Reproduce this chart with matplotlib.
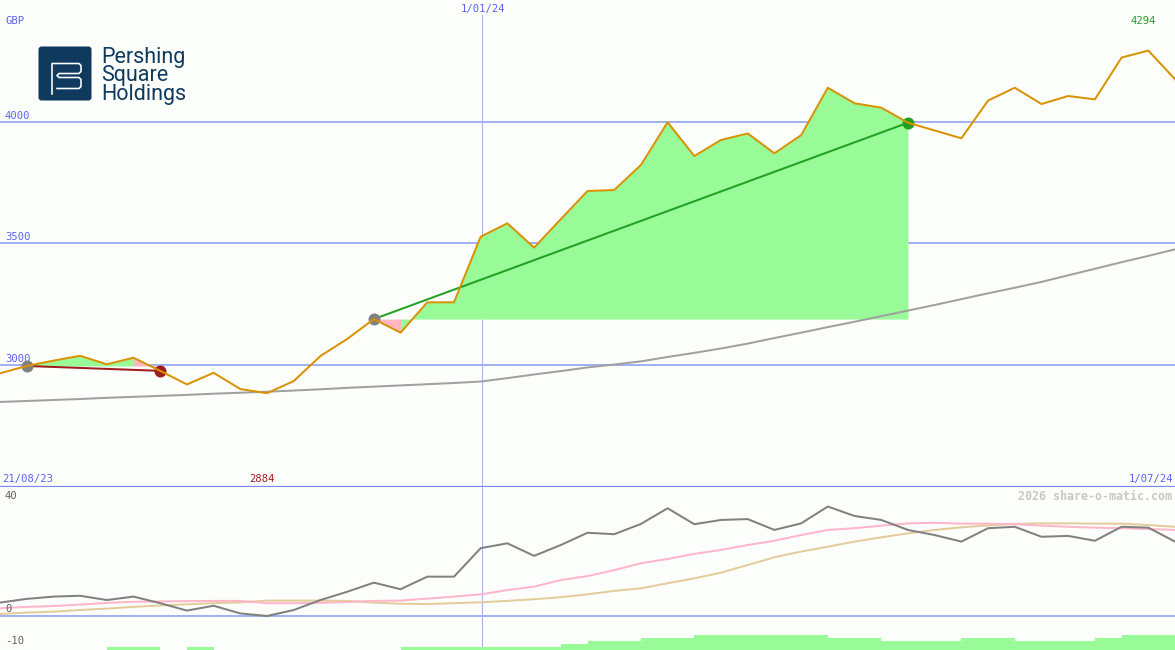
import matplotlib
matplotlib.use('Agg')
import matplotlib.pyplot as plt
from matplotlib.patches import FancyBboxPatch
from matplotlib.lines import Line2D
from matplotlib.transforms import blended_transform_factory
import numpy as np

# ---------------- data ----------------
price = [2966, 2996, 3018, 3038, 3003, 3030, 2976, 2920, 2968, 2901,
         2884, 2934, 3037, 3107, 3189, 3133, 3258, 3258, 3528, 3583,
         3483, 3600, 3716, 3720, 3823, 3999, 3860, 3926, 3953, 3871,
         3946, 4141, 4077, 4059, 3997, 3965, 3933, 4088, 4141, 4074,
         4107, 4093, 4265, 4294, 4176]
long_ma = [2848, 2852, 2856, 2860, 2865, 2869, 2873, 2877, 2882, 2886,
           2890, 2895, 2900, 2906, 2911, 2916, 2921, 2926, 2932, 2946,
           2961, 2975, 2990, 3002, 3015, 3033, 3050, 3068, 3088, 3111,
           3133, 3156, 3178, 3201, 3224, 3247, 3271, 3295, 3318, 3342,
           3369, 3396, 3423, 3449, 3476]
momentum = [4.7, 6.0, 6.8, 7.1, 5.6, 6.8, 4.5, 1.9, 3.6, 0.9,
            0.0, 2.1, 5.6, 8.5, 11.7, 9.4, 13.8, 13.8, 23.8, 25.5,
            21.1, 24.9, 29.2, 28.7, 32.3, 37.8, 32.2, 33.7, 34.0, 30.2,
            32.5, 38.4, 35.1, 33.7, 30.2, 28.4, 26.1, 30.8, 31.3, 27.8,
            28.1, 26.4, 31.3, 31.0, 26.1]
signal_fast = [2.7, 3.2, 3.5, 4.0, 4.6, 5.0, 5.1, 5.2, 5.3, 5.3,
               4.5, 4.5, 4.6, 4.9, 5.3, 5.4, 6.1, 6.8, 7.6, 9.1,
               10.3, 12.6, 14.0, 16.1, 18.5, 20.0, 21.8, 23.2, 24.9, 26.4,
               28.4, 30.2, 30.8, 31.7, 32.5, 32.7, 32.4, 32.4, 32.2, 31.7,
               31.3, 31.0, 30.8, 30.5, 30.2]
signal_slow = [0.7, 1.2, 1.5, 2.1, 2.6, 3.2, 3.7, 4.1, 4.5, 4.8,
               5.4, 5.4, 5.4, 5.3, 4.7, 4.3, 4.2, 4.5, 4.8, 5.3,
               5.9, 6.6, 7.6, 8.8, 9.7, 11.5, 13.2, 15.2, 17.9, 20.6,
               22.6, 24.3, 26.1, 27.6, 29.0, 30.2, 31.1, 31.8, 32.3, 32.5,
               32.5, 32.4, 32.4, 31.9, 31.3]
strength = [0, 0, 0, 0, 1, 1, 0, 1, 0, 0,
            0, 0, 0, 0, 0, 1, 1, 1, 1, 1,
            1, 2, 3, 3, 4, 4, 5, 5, 5, 5,
            5, 4, 4, 3, 3, 3, 4, 4, 3, 3,
            3, 4, 5, 5]
trades = [(1, 6), (14, 34)]          # (entry index, exit index)
price_ticks = [3000, 3500, 4000]
price_tick_labels = ['3000', '3500', '4000']
osc_ticks = [40, 0, -10]
osc_tick_labels = ['40', '0', '-10']
date_pos = [0, 18.05, 44]
date_labels = ['21/08/23', '1/01/24', '1/07/24']
currency = 'GBP'
watermark = '2026 share-o-matic.com'
logo_text = 'Pershing\nSquare\nHoldings'

# ---------------- style ----------------
W, H = 1175, 650
PX = 0.72  # points per pixel at 100 dpi
bg = '#fcfefc'
grid_c = '#a3b1f0'
sep_c = '#7a87ec'
blue_txt = '#5a64ee'
orange = '#d99200'
ma_c = '#a0a0a0'
green_fill = '#98fb98'
pink_fill = '#ffb6c1'
win_c = '#22a022'
loss_c = '#a01c1c'
mono = 'DejaVu Sans Mono'
FS = 7.6

fig = plt.figure(figsize=(W / 100, H / 100), dpi=100)
fig.patch.set_facecolor(bg)
top_h = 487
ax = fig.add_axes([0, (H - top_h) / H, 1, top_h / H])
ax2 = fig.add_axes([0, 0, 1, (H - top_h) / H])
for a in (ax, ax2):
    a.set_facecolor(bg)
    a.set_xticks([]); a.set_yticks([])
    for s in a.spines.values():
        s.set_visible(False)

x = np.arange(len(price))
ax.set_xlim(0, len(price) - 1)
ax2.set_xlim(0, len(price) - 1)
ax.set_ylim(2498, 4502)
ax2.set_ylim(-11.93, 45.26)

# upper panel
for t in price_ticks:
    ax.axhline(t, color=grid_c, lw=2 * PX, zorder=0.5)
ax.axvline(date_pos[1], ymin=0, ymax=(top_h - 15) / top_h, color=grid_c, lw=1 * PX, zorder=0.6)
ax2.axvline(date_pos[1], color=grid_c, lw=1 * PX, zorder=0.6)

ax.plot(x, long_ma, color=ma_c, lw=2 * PX, zorder=2)

pr = np.array(price, dtype=float)
for a_i, b_i in trades:
    entry, exitp = pr[a_i], pr[b_i]
    # colour of each segment (i-1 -> i) decided by its end point
    cols = [green_fill if pr[i] >= entry else pink_fill for i in range(a_i + 1, b_i + 1)]
    start = a_i + 1
    while start <= b_i:
        c = cols[start - a_i - 1]
        end = start
        while end + 1 <= b_i and cols[end + 1 - a_i - 1] == c:
            end += 1
        ax.fill_between(x[start - 1:end + 1], pr[start - 1:end + 1], entry,
                        color=c, lw=0, zorder=1)
        start = end + 1
    lc = win_c if exitp >= entry else loss_c
    ax.plot([a_i, b_i], [entry, exitp], color=lc, lw=2 * PX, zorder=3)
    ax.plot([a_i], [entry], 'o', color='#808080', ms=12 * PX, mec='none', zorder=4)
    ax.plot([b_i], [exitp], 'o', color=lc, ms=12 * PX, mec='none', zorder=4)

ax.plot(x, pr, color=orange, lw=2 * PX, zorder=5)

# separator line between panels
ax.axhline(2498, color=sep_c, lw=2.2 * PX, zorder=6, clip_on=False)

# lower panel
ax2.axhline(0, color=grid_c, lw=2 * PX, zorder=0.5)
ax2.plot(x, signal_slow, color='#e3cc9c', lw=2 * PX, zorder=2)
ax2.plot(x, signal_fast, color='#ffb6c8', lw=2 * PX, zorder=2)
ax2.plot(x, momentum, color='#808080', lw=2 * PX, zorder=3)

ax3 = fig.add_axes([0, 0, 1, (H - top_h) / H], sharex=ax2)
ax3.patch.set_alpha(0)
ax3.set_ylim(0, (H - top_h) / 3.05)
ax3.axis('off')
ax3.bar(np.arange(len(strength)), strength, width=1.0, align='edge', color=green_fill, lw=0, zorder=1)

# labels
ty = blended_transform_factory(ax.transAxes, ax.transData)
for t, lab in zip(price_ticks, price_tick_labels):
    ax.annotate(lab, xy=(0, t), xycoords=ty, xytext=(5 * PX, 6 * PX), textcoords='offset points',
                ha='left', va='center', fontsize=FS, family=mono, color=blue_txt)
ax.text(5 / W, 1 - 21 / top_h, currency, transform=ax.transAxes, ha='left', va='center',
        fontsize=FS, family=mono, color=blue_txt)

tx = blended_transform_factory(ax.transData, ax.transAxes)
ax.text(date_pos[1] + 0.05, 1 - 9 / top_h, date_labels[1], transform=tx, ha='center', va='center',
        fontsize=FS, family=mono, color=blue_txt)
ax.annotate(date_labels[0], xy=(date_pos[0], 0), xycoords=tx, xytext=(2 * PX, 8 * PX),
            textcoords='offset points', ha='left', va='center', fontsize=FS, family=mono, color=blue_txt)
ax.annotate(date_labels[2], xy=(date_pos[2], 0), xycoords=tx, xytext=(-2 * PX, 8 * PX),
            textcoords='offset points', ha='right', va='center', fontsize=FS, family=mono, color=blue_txt)

imin = int(np.argmin(pr)); imax = int(np.argmax(pr))
ax.annotate(f'{int(pr[imin])}', xy=(imin, 0), xycoords=tx, xytext=(-5 * PX, 8 * PX),
            textcoords='offset points', ha='center', va='center', fontsize=FS, family=mono, color=loss_c)
ax.text(imax - 0.2, 1 - 21 / top_h, f'{int(pr[imax])}', transform=tx, ha='center', va='center',
        fontsize=FS, family=mono, color=win_c)

ty2 = blended_transform_factory(ax2.transAxes, ax2.transData)
for t, lab, off in zip(osc_ticks, osc_tick_labels, [6, 7, 3]):
    ax2.annotate(lab, xy=(0, t), xycoords=ty2, xytext=(5 * PX, off * PX), textcoords='offset points',
                 ha='left', va='center', fontsize=FS, family=mono, color='#606060')
ax2.text(1 - 3 / W, 1 - 9 / (H - top_h), watermark, transform=ax2.transAxes, ha='right', va='center',
         fontsize=8.4, family=mono, fontweight='bold', color='#c8c8c8')

# logo overlay (pixel coordinates)
axo = fig.add_axes([0, 0, 1, 1], zorder=10)
axo.set_xlim(0, W); axo.set_ylim(H, 0); axo.axis('off'); axo.patch.set_alpha(0)
navy = '#0f3a5e'
axo.add_patch(FancyBboxPatch((38.5, 46.5), 53, 54, boxstyle='round,pad=0,rounding_size=3',
                             fc=navy, ec='none'))
lw_logo = 1.6 * PX
pA = [(52, 94), (52, 63.5), (79, 63.5), (81, 65.5), (81, 71.5), (79, 73.5), (59, 73.5),
      (57, 75.5), (59, 77.5), (79, 77.5), (81, 79.5), (81, 86.5), (79, 88.5), (57, 88.5)]
axo.add_line(Line2D([p[0] for p in pA], [p[1] for p in pA], color='white', lw=lw_logo,
                    solid_joinstyle='round'))
axo.text(101.5, 47, logo_text, ha='left', va='top', fontsize=15.5, family='Roboto',
         color=navy, linespacing=0.84)

fig.savefig('out.png', dpi=100, facecolor=bg)
